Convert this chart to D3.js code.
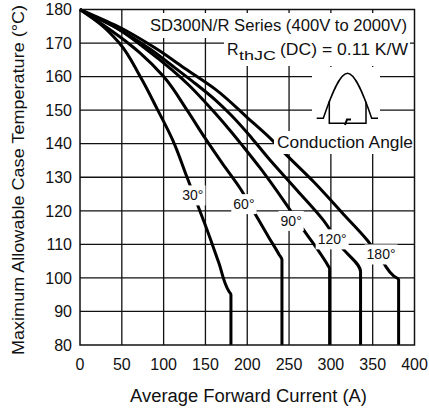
<!DOCTYPE html>
<html>
<head>
<meta charset="utf-8">
<script src="https://cdn.jsdelivr.net/npm/d3@7"></script>
<style>
  body { margin: 0; background: #fff; }
  text { font-family: "Liberation Sans", Arial, sans-serif; fill: #111; }
</style>
</head>
<body>
<script>
// tick values
const xTicks = [0, 50, 100, 150, 200, 250, 300, 350, 400];
const yTicks = [80, 90, 100, 110, 120, 130, 140, 150, 160, 170, 180];

// conduction angles
const angles = ["30°", "60°", "90°", "120°", "180°"];

// average forward current (A) / max case temperature (°C)
const current30 = [0, 25, 47, 72, 93, 111, 128, 141, 152, 166, 178, 180.5, 180.5];
const temp30    = [180, 175.5, 170, 160, 150, 141, 130, 121.5, 114.3, 104.5, 96, 95, 80];

const current60 = [0, 30, 60, 72, 100, 128, 150, 170, 192, 210, 226, 238, 241.5, 241.5];
const temp60    = [180, 175, 169.5, 167, 160, 150, 141.5, 134.2, 126.5, 118.8, 112, 107, 105.4, 80];

const current90 = [0, 40, 80, 110, 130, 150, 162, 180, 195, 215.6, 245.6, 265.5, 297.4, 298.5, 298.5];
const temp90    = [180, 175, 168, 162, 157.5, 152.3, 149, 143.8, 139.2, 132.7, 122.3, 115, 103.3, 102.8, 80];

const current120 = [0, 40, 85, 110, 135, 162, 180, 205, 223.6, 260, 290, 313.4, 335.5, 335.5];
const temp120    = [180, 175, 168, 163.3, 158.5, 153, 148.7, 141.8, 136.2, 126, 117.5, 109, 101.8, 80];

const current180 = [0, 45, 90, 125, 162, 200, 230, 243.5, 280, 315, 343.3, 363, 375, 381, 381];
const temp180    = [180, 175, 168.5, 162.5, 156.2, 147.8, 141, 137.5, 128.5, 119, 111.3, 104.4, 100.6, 99.5, 80];

const series = [
  [current30, temp30],
  [current60, temp60],
  [current90, temp90],
  [current120, temp120],
  [current180, temp180]
];

const width = 429;
const height = 408;

const x = d3.scaleLinear().domain([0, 400]).range([80, 414.5]);
const y = d3.scaleLinear().domain([80, 180]).range([345, 9.5]);

const svg = d3.select("body").append("svg")
  .attr("width", width)
  .attr("height", height);

// grid
const grid = svg.append("g").attr("stroke", "#111").attr("stroke-width", 1.3);
grid.selectAll("line.v")
  .data(xTicks.slice(1, -1))
  .enter().append("line")
    .attr("class", "v")
    .attr("x1", d => x(d)).attr("x2", d => x(d))
    .attr("y1", y(80)).attr("y2", y(180));
grid.selectAll("line.h")
  .data(yTicks.slice(1, -1))
  .enter().append("line")
    .attr("class", "h")
    .attr("x1", x(0)).attr("x2", x(400))
    .attr("y1", d => y(d)).attr("y2", d => y(d));

// curves
const line = d3.line()
  .x(d => x(d[0]))
  .y(d => y(d[1]))
  .curve(d3.curveMonotoneY);

svg.append("g").selectAll("path")
  .data(series.map(s => s[0].map((c, i) => [c, s[1][i]])))
  .enter().append("path")
    .attr("d", line)
    .attr("fill", "none")
    .attr("stroke", "#000")
    .attr("stroke-width", 3);

// white boxes behind annotations, then the annotations
const boxes = svg.append("g").attr("fill", "#fff");
const notes = svg.append("g");

function boxText(sel, pad) {
  const b = sel.node().getBBox();
  boxes.append("rect")
    .attr("x", b.x - pad).attr("y", b.y - pad)
    .attr("width", b.width + 2 * pad).attr("height", b.height + 2 * pad);
  return sel;
}

// angle labels (placed in data units)
const labelAt = [[135, 124.6], [196, 122], [252.5, 117], [301.5, 111.5], [360, 107]];
angles.forEach((a, i) => {
  const t = notes.append("text")
    .attr("x", x(labelAt[i][0]))
    .attr("y", y(labelAt[i][1]))
    .attr("dy", "0.36em")
    .attr("text-anchor", "middle")
    .attr("font-size", 14)
    .text(a);
  boxText(t, 2);
});

// title block
const title = notes.append("text")
  .attr("x", 150).attr("y", 31)
  .attr("font-size", 16)
  .attr("textLength", 257).attr("lengthAdjust", "spacingAndGlyphs")
  .text("SD300N/R Series (400V to 2000V)");
const r1 = notes.append("text").attr("x", 227).attr("y", 55).attr("font-size", 16).text("R");
const r2 = notes.append("text").attr("x", 239).attr("y", 60).attr("font-size", 13)
  .attr("textLength", 37).attr("lengthAdjust", "spacingAndGlyphs").text("thJC");
const r3 = notes.append("text").attr("x", 280).attr("y", 55).attr("font-size", 16)
  .attr("textLength", 128).attr("lengthAdjust", "spacingAndGlyphs").text("(DC) = 0.11 K/W");
boxes.append("rect").attr("x", 147).attr("y", 13).attr("width", 263).attr("height", 25);
boxes.append("rect").attr("x", 224).attr("y", 36).attr("width", 186).attr("height", 30);

// waveform icon
boxes.append("rect").attr("x", 312).attr("y", 67).attr("width", 68).attr("height", 72);
const cond = notes.append("text")
  .attr("x", 277).attr("y", 148)
  .attr("font-size", 16)
  .attr("textLength", 136).attr("lengthAdjust", "spacingAndGlyphs")
  .text("Conduction Angle");
boxText(cond, 3);

const x0 = 323.3, x1 = 371.7, base = 118.3, h = 45;
const hw = (x1 - x0) / 2, xc = x0 + hw;
const icon = notes.append("g").attr("fill", "none").attr("stroke", "#000").attr("stroke-width", 1.5);
icon.append("path").attr("d",
  `M316.7,${base} L${x0},${base}` +
  ` C${x0 + 0.326 * hw},${base - 0.512 * h} ${x0 + 0.674 * hw},${base - h} ${xc},${base - h}` +
  ` C${xc + 0.326 * hw},${base - h} ${xc + 0.674 * hw},${base - 0.512 * h} ${x1},${base}` +
  ` L378,${base}`);
icon.append("path").attr("d", "M329.3,101 L329.3,123.3 L366,123.3 L366,102");
icon.append("path").attr("d", "M345,125 L347,119.5 L351,119.5").attr("stroke-width", 2);

// frame
svg.append("rect")
  .attr("x", x(0)).attr("y", y(180))
  .attr("width", x(400) - x(0)).attr("height", y(80) - y(180))
  .attr("fill", "none").attr("stroke", "#111").attr("stroke-width", 1.5);

// tick labels
svg.append("g").selectAll("text")
  .data(xTicks)
  .enter().append("text")
    .attr("x", d => x(d))
    .attr("y", 370)
    .attr("text-anchor", "middle")
    .attr("font-size", 16)
    .text(d => d);
svg.append("g").selectAll("text")
  .data(yTicks)
  .enter().append("text")
    .attr("x", 72)
    .attr("y", d => y(d))
    .attr("dy", "0.36em")
    .attr("text-anchor", "end")
    .attr("font-size", 16)
    .text(d => d);

// axis titles
svg.append("text")
  .attr("x", 130).attr("y", 402)
  .attr("font-size", 18)
  .attr("textLength", 237).attr("lengthAdjust", "spacingAndGlyphs")
  .text("Average Forward Current (A)");
svg.append("text")
  .attr("transform", "translate(24,355) rotate(-90)")
  .attr("font-size", 17)
  .attr("textLength", 350).attr("lengthAdjust", "spacingAndGlyphs")
  .text("Maximum Allowable Case Temperature (°C)");
</script>
</body>
</html>
